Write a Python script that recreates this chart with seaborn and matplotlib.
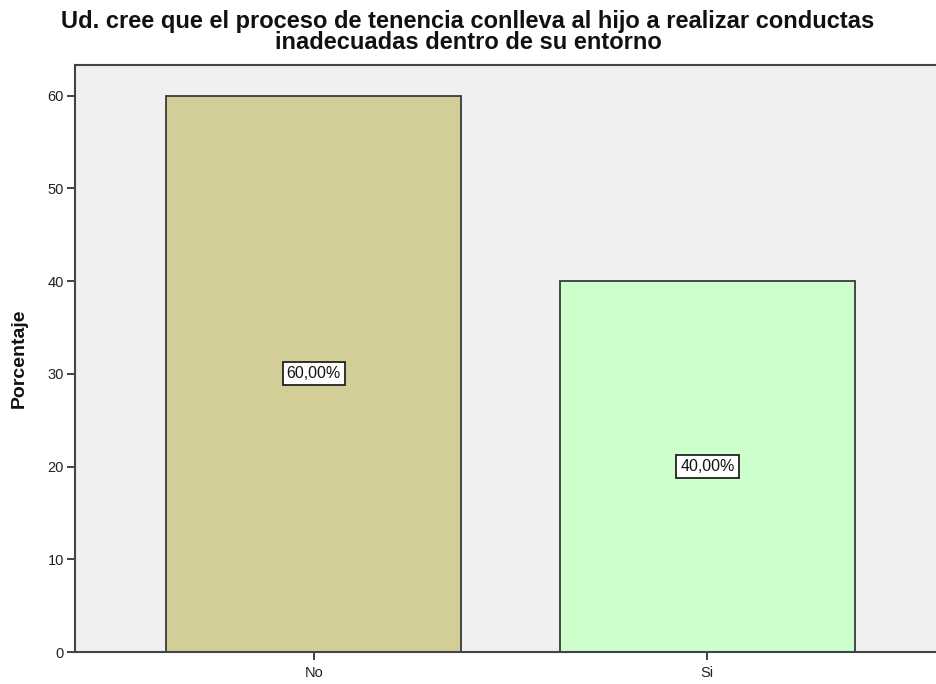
import matplotlib
matplotlib.use("Agg")
import matplotlib.pyplot as plt
import seaborn as sns
import pandas as pd

categories = ["No", "Si"]
percentages = [60.0, 40.0]
value_labels = ["60,00%", "40,00%"]
bar_colors = ["#D3CE97", "#CCFFCC"]

title = "Ud. cree que el proceso de tenencia conlleva al hijo a realizar conductas\ninadecuadas dentro de su entorno"
y_label = "Porcentaje"
y_ticks = [0, 10, 20, 30, 40, 50, 60]

sns.set_theme(style="white")
plt.rcParams["font.family"] = ["Liberation Sans", "DejaVu Sans"]

df = pd.DataFrame({"cat": categories, "pct": percentages})

fig = plt.figure(figsize=(9.36, 6.84), dpi=100)
ax = fig.add_axes([75 / 936, 1 - 652 / 684, 1 - 75 / 936, (652 - 65) / 684])
ax.set_facecolor("#F0F0F0")

sns.barplot(data=df, x="cat", y="pct", hue="cat", palette=bar_colors,
            saturation=1, width=0.75, edgecolor="#3A3A3A", linewidth=1.3,
            legend=False, ax=ax)

for i, (v, lab) in enumerate(zip(percentages, value_labels)):
    ax.text(i, v / 2, lab, ha="center", va="center", fontsize=11.5, color="#111111",
            bbox=dict(boxstyle="square,pad=0.25", facecolor="white",
                      edgecolor="#222222", linewidth=1.3))

ax.set_xlim(-0.607, 1.581)
ax.set_ylim(0, 63.3)
ax.set_yticks(y_ticks)
ax.set_yticklabels([str(t) for t in y_ticks])
ax.set_xlabel("")
ax.set_ylabel(y_label, fontsize=14, fontweight="bold", labelpad=14, color="#111111")
ax.tick_params(axis="both", which="both", direction="out", length=6, width=1.3,
               color="#333333", labelsize=10.5, labelcolor="#222222", pad=2,
               left=True, bottom=True)
ax.tick_params(axis="x", pad=4)

for side in ["left", "bottom", "top"]:
    ax.spines[side].set_visible(True)
    ax.spines[side].set_color("#444444")
    ax.spines[side].set_linewidth(1.5)
ax.spines["right"].set_visible(False)

fig.suptitle(title, x=0.5, y=0.985, fontsize=17, color="#111111",
             fontweight="bold", linespacing=0.88, va="top")

fig.savefig("out.png", dpi=100, facecolor="white")
